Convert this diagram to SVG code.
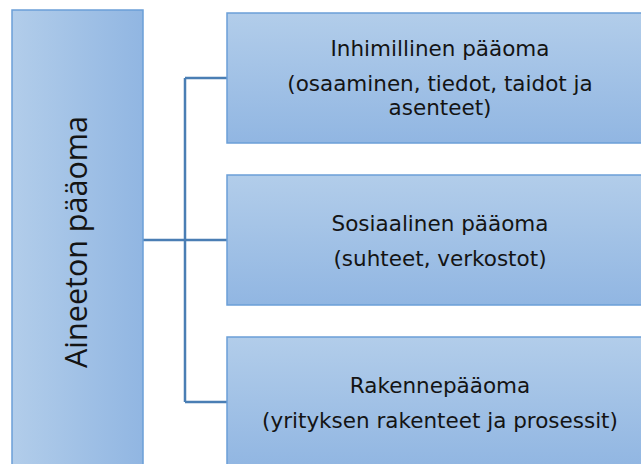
<svg xmlns="http://www.w3.org/2000/svg" width="641" height="464" viewBox="0 0 641 464">
  <defs>
    <linearGradient id="fillV" x1="0" y1="0" x2="0" y2="1">
      <stop offset="0" stop-color="#b2cdea"/>
      <stop offset="1" stop-color="#91b6e2"/>
    </linearGradient>
    <linearGradient id="fillH" x1="0" y1="0" x2="1" y2="0">
      <stop offset="0" stop-color="#b2cdea"/>
      <stop offset="1" stop-color="#91b6e2"/>
    </linearGradient>
    <style>
      .box { stroke: #6b9fd7; stroke-width: 1.5; }
      .root { fill: url(#fillH); }
      .child { fill: url(#fillV); }
      .link { fill: none; stroke: #4a7eb4; stroke-width: 2.5; }
      .lbl { font-family: "DejaVu Sans", "Liberation Sans", sans-serif; font-size: 21.5px; fill: #141414; text-anchor: middle; }
      .rootlbl { font-family: "Open Sans", "Liberation Sans", sans-serif; font-size: 30.5px; fill: #141414; text-anchor: middle; }
    </style>
  </defs>

  <rect width="641" height="464" fill="#ffffff"/>

  <!-- connectors: trunk from the root and three branches -->
  <g id="connectors">
    <path class="link" d="M143 240 H227"/>
    <path class="link" d="M185 78 V402"/>
    <path class="link" d="M185 78 H227"/>
    <path class="link" d="M185 402 H227"/>
  </g>

  <!-- root node -->
  <g id="node-aineeton">
    <rect class="box root" x="12" y="10" width="131" height="470"/>
    <text class="rootlbl" transform="translate(87,242) rotate(-90)">Aineeton pääoma</text>
  </g>

  <!-- child nodes -->
  <g id="node-inhimillinen">
    <rect class="box child" x="227" y="13" width="426" height="130"/>
    <text class="lbl" x="440" y="56">Inhimillinen pääoma</text>
    <text class="lbl" x="440" y="91">(osaaminen, tiedot, taidot ja</text>
    <text class="lbl" x="440" y="115">asenteet)</text>
  </g>

  <g id="node-sosiaalinen">
    <rect class="box child" x="227" y="175" width="426" height="130"/>
    <text class="lbl" x="440" y="231">Sosiaalinen pääoma</text>
    <text class="lbl" x="440" y="266">(suhteet, verkostot)</text>
  </g>

  <g id="node-rakenne">
    <rect class="box child" x="227" y="337" width="426" height="130"/>
    <text class="lbl" x="440" y="393">Rakennepääoma</text>
    <text class="lbl" x="440" y="428">(yrityksen rakenteet ja prosessit)</text>
  </g>
</svg>
